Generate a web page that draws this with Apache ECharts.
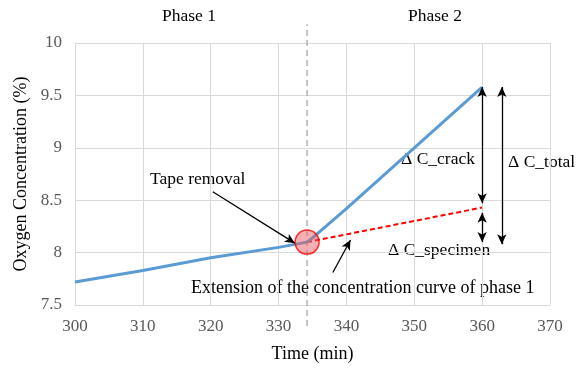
<!DOCTYPE html>
<html>
<head>
<meta charset="utf-8">
<script src="https://cdn.jsdelivr.net/npm/echarts@6/dist/echarts.min.js"></script>
<style>
  html, body { margin: 0; padding: 0; background: #fff; }
  #chart { width: 585px; height: 368px; }
</style>
</head>
<body>
<div id="chart"></div>
<script>
// measured curve, time (min) vs oxygen concentration (%)
const timeValues = [300, 310, 320, 330, 334.2, 335, 340, 350, 360];
const concValues = [7.72, 7.83, 7.95, 8.05, 8.10, 8.14, 8.42, 9.0, 9.58];

// extension of the phase 1 trend
const extTime = [334.2, 360];
const extConc = [8.10, 8.43];

const tapeRemoval = [334.2, 8.10];
const phaseBoundary = 334.2;

const xTicks = { min: 300, max: 370, step: 10 };
const yTicks = { min: 7.5, max: 10, step: 0.5 };

const serif = "Liberation Serif";
const chart = echarts.init(document.getElementById("chart"));

const arrowLine = { color: "#000", width: 1.3, type: "solid" };
const txt = (s, x, y, size) => ({
  type: "text", left: x, top: y,
  style: { text: s, fontFamily: serif, fontSize: size || 17.5, fill: "#000" }
});

chart.setOption({
  animation: false,
  textStyle: { fontFamily: serif },
  grid: { left: 75, right: 35, top: 43, bottom: 63 },
  xAxis: {
    type: "value",
    min: xTicks.min,
    max: xTicks.max,
    interval: xTicks.step,
    name: "Time (min)",
    nameLocation: "middle",
    nameGap: 40,
    nameTextStyle: { fontFamily: serif, fontSize: 18, color: "#000" },
    axisLine: { lineStyle: { color: "#d9d9d9" } },
    axisTick: { show: false },
    axisLabel: { fontFamily: serif, fontSize: 17, color: "#595959", margin: 13 },
    splitLine: { lineStyle: { color: "#d9d9d9" } }
  },
  yAxis: {
    type: "value",
    min: yTicks.min,
    max: yTicks.max,
    interval: yTicks.step,
    name: "Oxygen Concentration (%)",
    nameLocation: "middle",
    nameGap: 41,
    nameTextStyle: { fontFamily: serif, fontSize: 18, color: "#000" },
    axisLine: { show: true, lineStyle: { color: "#d9d9d9" } },
    axisTick: { show: false },
    axisLabel: { fontFamily: serif, fontSize: 17, color: "#595959", margin: 13 },
    splitLine: { lineStyle: { color: "#d9d9d9" } }
  },
  series: [
    {
      name: "boundary",
      type: "line",
      data: [[phaseBoundary, 7.3], [phaseBoundary, 10.18]],
      clip: false,
      symbol: "none",
      silent: true,
      lineStyle: { color: "#a6a6a6", width: 1.3, type: [6, 4] },
      z: 1
    },
    {
      name: "extension",
      type: "line",
      data: extTime.map((t, i) => [t, extConc[i]]),
      symbol: "none",
      lineStyle: { color: "#ff0000", width: 2, type: [5, 3] },
      z: 2
    },
    {
      name: "concentration",
      type: "line",
      data: timeValues.map((t, i) => [t, concValues[i]]),
      symbol: "none",
      lineStyle: { color: "#5b9bd5", width: 3 },
      z: 3,
      markLine: {
        silent: true,
        symbol: ["arrow", "arrow"],
        symbolSize: [7, 10],
        label: { show: false },
        lineStyle: arrowLine,
        data: [
          [{ coord: [360, 9.58] }, { coord: [360, 8.47] }],
          [{ coord: [360, 8.38] }, { coord: [360, 8.10] }],
          [{ coord: [362.9, 9.58] }, { coord: [362.9, 8.08] }],
          [{ coord: [320.3, 8.58], symbol: "none" }, { coord: [332.4, 8.09] }],
          [{ coord: [338.0, 7.81], symbol: "none" }, { coord: [340.6, 8.12] }]
        ]
      }
    },
    {
      name: "tape removal",
      type: "scatter",
      data: [tapeRemoval],
      symbolSize: 24,
      itemStyle: { color: "rgba(232, 90, 90, 0.6)", borderColor: "#ff0000", borderWidth: 1.5 },
      z: 4
    }
  ],
  graphic: [
    txt("Phase 1", 162, 7),
    txt("Phase 2", 408, 7),
    txt("Tape removal", 150, 170),
    txt("\u0394 C_crack", 401, 150),
    txt("\u0394 C_total", 508, 153),
    txt("\u0394 C_specimen", 388, 241),
    txt("Extension of the concentration curve of phase 1", 191, 279, 18)
  ]
});
</script>
</body>
</html>
